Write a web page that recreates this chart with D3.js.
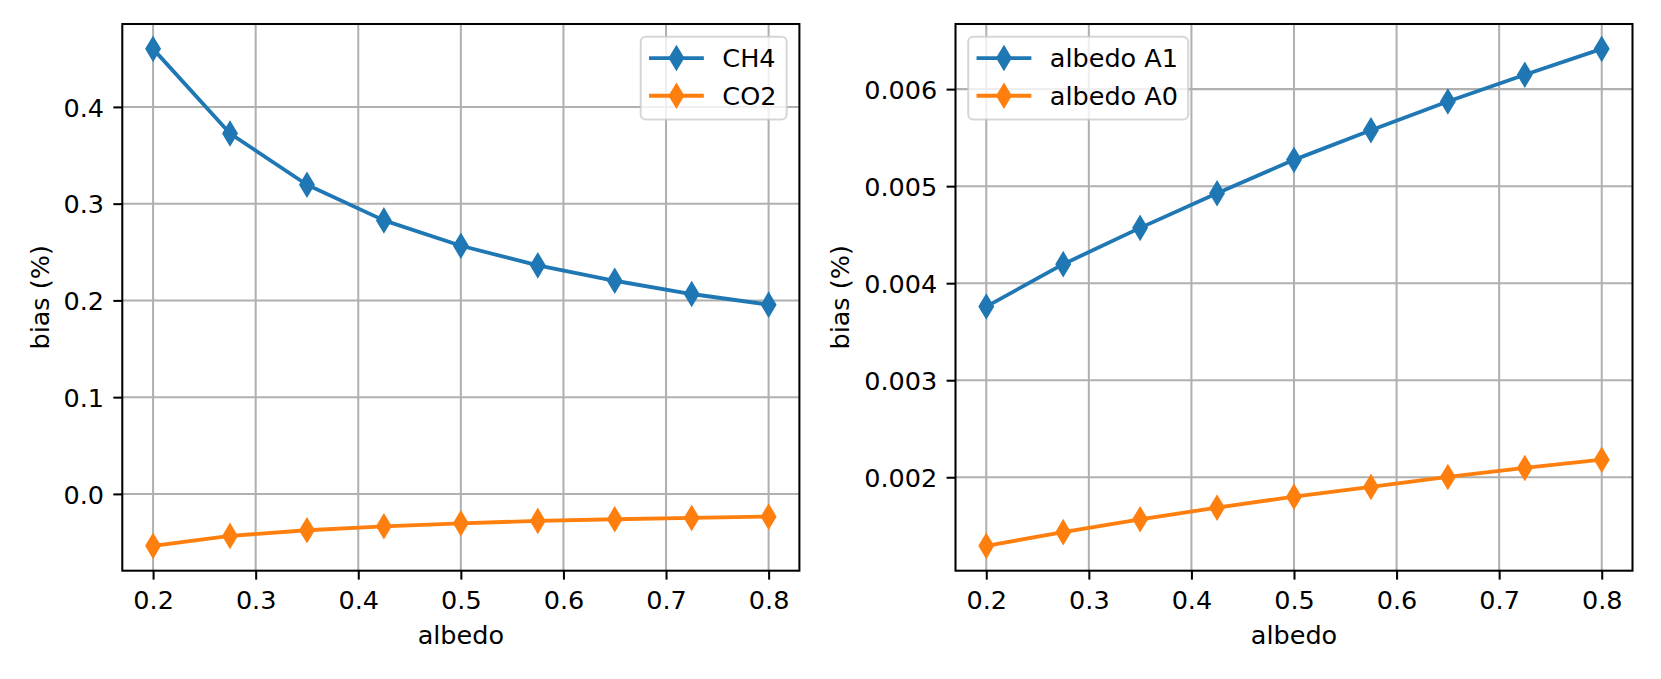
<!DOCTYPE html>
<html>
<head>
<meta charset="utf-8">
<script src="https://cdn.jsdelivr.net/npm/d3@7"></script>
<style>
  html, body { margin: 0; padding: 0; background: #fff; }
  svg { display: block; font-family: "DejaVu Sans", sans-serif; }
</style>
</head>
<body>
<svg id="chart" width="1661" height="679"></svg>
<script>
// ---- data ----
const albedo = [0.2, 0.275, 0.35, 0.425, 0.5, 0.575, 0.65, 0.725, 0.8];
const ch4 = [0.460, 0.3725, 0.3195, 0.2827, 0.2565, 0.2362, 0.2203, 0.2066, 0.1956];
const co2 = [-0.0537, -0.0434, -0.0376, -0.0335, -0.0304, -0.0279, -0.0262, -0.0248, -0.0235];
const albedoA1 = [0.003759, 0.004196, 0.004570, 0.004927, 0.005271, 0.005576, 0.005872, 0.006148, 0.006415];
const albedoA0 = [0.001293, 0.001434, 0.001567, 0.001687, 0.001800, 0.001900, 0.002003, 0.002096, 0.002181];
const xTicks = [0.2, 0.3, 0.4, 0.5, 0.6, 0.7, 0.8];
const leftYTicks = [0.0, 0.1, 0.2, 0.3, 0.4];
const rightYTicks = [0.002, 0.003, 0.004, 0.005, 0.006];
const leftLabels = ["CH4", "CO2"];
const rightLabels = ["albedo A1", "albedo A0"];
const colors = ["#1f77b4", "#ff7f0e"];
const xLabel = "albedo";
const yLabel = "bias (%)";

// ---- style constants ----
const PT = 2.55;
const FS = 10 * PT;
const svg = d3.select("#chart");

function marginDomain(arrs) {
  const all = arrs.flat();
  const [lo, hi] = d3.extent(all);
  const m = (hi - lo) * 0.05;
  return [lo - m, hi + m];
}

const diamondH = Math.SQRT2 * 6 * PT;
const diamondW = 0.6 * diamondH;
const diamondPath = `M0,${-diamondH/2}L${diamondW/2},0L0,${diamondH/2}L${-diamondW/2},0Z`;

function panel(opts) {
  const { left, right, top, bottom, series, labels, yTicks, yFmt, legendSide, ylabelX } = opts;
  const g = svg.append("g");
  const x = d3.scaleLinear().domain(marginDomain([albedo])).range([left, right]);
  const y = d3.scaleLinear().domain(marginDomain(series)).range([bottom, top]);

  // grid
  g.append("g").selectAll("line").data(xTicks).join("line")
    .attr("x1", d => x(d)).attr("x2", d => x(d)).attr("y1", top).attr("y2", bottom)
    .attr("stroke", "#b0b0b0").attr("stroke-width", 0.8 * PT);
  g.append("g").selectAll("line").data(yTicks).join("line")
    .attr("y1", d => y(d)).attr("y2", d => y(d)).attr("x1", left).attr("x2", right)
    .attr("stroke", "#b0b0b0").attr("stroke-width", 0.8 * PT);

  // series
  const line = d3.line().x((d, i) => x(albedo[i])).y(d => y(d));
  series.forEach((s, k) => {
    g.append("path").datum(s).attr("d", line)
      .attr("fill", "none").attr("stroke", colors[k]).attr("stroke-width", 1.5 * PT)
      .attr("stroke-linejoin", "round");
    g.append("g").selectAll("path").data(s).join("path")
      .attr("d", diamondPath)
      .attr("transform", (d, i) => `translate(${x(albedo[i])},${y(d)})`)
      .attr("fill", colors[k]).attr("stroke", colors[k]).attr("stroke-width", 1 * PT)
      .attr("stroke-linejoin", "miter");
  });

  // spines
  g.append("rect").attr("x", left).attr("y", top).attr("width", right - left).attr("height", bottom - top)
    .attr("fill", "none").attr("stroke", "#000").attr("stroke-width", 0.8 * PT);

  // axes
  const xAxis = d3.axisBottom(x).tickValues(xTicks).tickFormat(d3.format(".1f"))
    .tickSize(3.5 * PT).tickPadding(11.3);
  const gx = g.append("g").attr("transform", `translate(0,${bottom})`).call(xAxis);
  const yAxis = d3.axisLeft(y).tickValues(yTicks).tickFormat(d3.format(yFmt))
    .tickSize(3.5 * PT).tickPadding(3.5 * PT + 0.4);
  const gy = g.append("g").attr("transform", `translate(${left},0)`).call(yAxis);
  [gx, gy].forEach(a => {
    a.select(".domain").remove();
    a.selectAll(".tick line").attr("stroke", "#000").attr("stroke-width", 0.8 * PT);
    a.selectAll(".tick text").attr("fill", "#000").style("font-size", FS + "px")
      .style("font-family", "DejaVu Sans");
  });
  gy.selectAll(".tick text").attr("dy", "0.365em");

  // labels
  g.append("text").attr("x", (left + right) / 2).attr("y", 644)
    .attr("text-anchor", "middle").style("font-size", FS + "px").text(xLabel);
  g.append("text").attr("transform", `translate(${ylabelX},${(top + bottom) / 2}) rotate(-90)`)
    .attr("text-anchor", "middle").style("font-size", FS + "px").text(yLabel);

  // legend
  const lg = g.append("g");
  const texts = labels.map((t, i) => lg.append("text").style("font-size", FS + "px").text(t));
  const tw = d3.max(texts, t => t.node().getComputedTextLength());
  const boxW = (0.4 + 2 + 0.8 + 0.4) * FS + tw;
  const boxH = 82.8;
  const boxX = legendSide === "right" ? right - 0.5 * FS - boxW : left + 0.5 * FS;
  const boxY = top + 0.5 * FS;
  lg.insert("rect", "text").attr("x", boxX).attr("y", boxY).attr("width", boxW).attr("height", boxH)
    .attr("rx", 0.2 * FS).attr("ry", 0.2 * FS)
    .attr("fill", "rgba(255,255,255,0.8)").attr("stroke", "rgba(204,204,204,0.8)")
    .attr("stroke-width", 0.8 * PT);
  labels.forEach((t, i) => {
    const cy = boxY + 21.3 + i * 37.7;
    const hx0 = boxX + 0.4 * FS, hx1 = hx0 + 2 * FS;
    lg.append("line").attr("x1", hx0).attr("x2", hx1).attr("y1", cy).attr("y2", cy)
      .attr("stroke", colors[i]).attr("stroke-width", 1.5 * PT).attr("stroke-linecap", "square");
    lg.append("path").attr("d", diamondPath).attr("transform", `translate(${(hx0 + hx1) / 2},${cy})`)
      .attr("fill", colors[i]).attr("stroke", colors[i]).attr("stroke-width", 1 * PT);
    texts[i].attr("x", hx1 + 0.8 * FS).attr("y", cy + 9.3).attr("fill", "#000");
    texts[i].raise();
  });
}

panel({ left: 122.3, right: 799.4, top: 24, bottom: 570.7, series: [ch4, co2], labels: leftLabels,
        yTicks: leftYTicks, yFmt: ".1f", legendSide: "right", ylabelX: 49 });
panel({ left: 955.5, right: 1632.5, top: 24, bottom: 570.7, series: [albedoA1, albedoA0], labels: rightLabels,
        yTicks: rightYTicks, yFmt: ".3f", legendSide: "left", ylabelX: 849 });
</script>
</body>
</html>
